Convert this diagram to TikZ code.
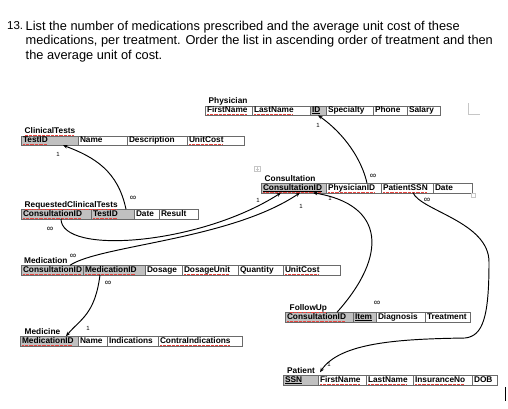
\documentclass[tikz,border=0pt]{standalone}
\usepackage{fontspec}
\setmainfont{Liberation Sans}
\usetikzlibrary{positioning,arrows.meta}
\definecolor{erGris}{HTML}{C0C0C0}
\definecolor{erBorde}{HTML}{6A6A6A}
\definecolor{erRojo}{HTML}{E8453F}
\newcommand\cellfont{\bfseries\fontsize{8.3}{9}\selectfont}
\newsavebox\erbox
% red spell-check dots under a word
\newcommand\wavy[1]{\leavevmode\sbox\erbox{#1}\rlap{\hbox to\wd\erbox{\leaders\hbox{\textcolor{erRojo}{\rule[-2.1pt]{0.6pt}{0.5pt}}\kern0.7pt}\hfill}}\usebox\erbox}
% key underline
\newcommand\keyul[1]{\leavevmode\sbox\erbox{#1}\rlap{\rule[-1.1pt]{\wd\erbox}{0.5pt}}\usebox\erbox}
\newcommand\keywavy[1]{\leavevmode\sbox\erbox{#1}\rlap{\rule[-1.1pt]{\wd\erbox}{0.5pt}}\wavy{#1}}
\begin{document}
\begin{tikzpicture}[x=1pt, y=-1pt,
      cell/.style={draw=erBorde, line width=0.5pt, outer sep=0pt, inner xsep=2pt, inner ysep=0pt,
                   minimum height=9.5pt, text height=6.2pt, text depth=1.8pt,
                   text width=#1, align=left, font=\cellfont},
      key/.style={cell=#1, fill=erGris},
      ttl/.style={inner sep=0pt, font=\cellfont, text height=6.2pt, text depth=1.8pt},
      lnk/.style={-{Stealth[length=4.5pt,width=3.6pt]}, line width=0.95pt},
      one/.style={inner sep=0pt, font=\fontsize{6}{6}\selectfont},
      many/.style={inner sep=0pt, font=\fontsize{9}{9}\selectfont},
      edmark/.style={draw=gray!45, line width=0.5pt}]
    \useasboundingbox (0,0) rectangle (508,408);
    % question
    \node[anchor=north west, inner sep=0pt, font=\fontsize{11.5}{14.5}\selectfont] (qnum) at (7,21.5) {13.};
    \node[anchor=north west, inner sep=0pt, align=left, font=\fontsize{12.8}{14.5}\selectfont] (qtext) at (25.5,21)
      {List the number of medications prescribed and the average unit cost of these\\
       medications, per treatment. Order the list in ascending order of treatment and then\\
       the average unit of cost.};
    % Physician
    \node[cell=43pt, anchor=west] (phFirst) at (205,110.5) {\wavy{FirstName}};
    \node[cell=54pt, right=0pt of phFirst] (phLast) {\wavy{LastName}};
    \node[key=12pt, right=0pt of phLast] (phID) {\keyul{ID}};
    \node[cell=43pt, right=0pt of phID] (phSpec) {Specialty};
    \node[cell=30pt, right=0pt of phSpec] (phPhone) {Phone};
    \node[cell=29pt, right=0pt of phPhone] (phSal) {Salary};
    \node[ttl, above right=0pt and 3.5pt of phFirst.north west] (phT) {Physician};
    % ClinicalTests
    \node[key=53pt, anchor=west] (ctID) at (21,140.5) {\wavy{TestID}};
    \node[cell=45pt, right=0pt of ctID] (ctName) {Name};
    \node[cell=56pt, right=0pt of ctName] (ctDesc) {Description};
    \node[cell=53pt, right=0pt of ctDesc] (ctCost) {\wavy{UnitCost}};
    \node[ttl, above right=0pt and 3.5pt of ctID.north west] (ctT) {\wavy{ClinicalTests}};
    % Consultation
    \node[key=61pt, anchor=west] (coID) at (261,188) {\keywavy{ConsultationID}};
    \node[cell=51pt, right=0pt of coID] (coPhys) {\wavy{PhysicianID}};
    \node[cell=48pt, right=0pt of coPhys] (coPat) {\wavy{PatientSSN}};
    \node[cell=35pt, right=0pt of coPat] (coDate) {Date};
    \node[ttl, above right=0pt and 3.5pt of coID.north west] (coT) {Consultation};
    % RequestedClinicalTests
    \node[key=66pt, anchor=west] (rcID) at (21,214) {\wavy{ConsultationID}};
    \node[key=39pt, right=0pt of rcID] (rTest) {\wavy{TestID}};
    \node[cell=21pt, right=0pt of rTest] (rDate) {Date};
    \node[cell=35pt, right=0pt of rDate] (rRes) {Result};
    \node[ttl, above right=0pt and 3.5pt of rcID.north west] (rcT) {\wavy{RequestedClinicalTests}};
    % Medication
    \node[key=58pt, anchor=west] (mcID) at (21,270) {\wavy{ConsultationID}};
    \node[key=58pt, right=0pt of mcID] (mcMed) {\wavy{MedicationID}};
    \node[cell=33pt, right=0pt of mcMed] (mcDose) {Dosage};
    \node[cell=52pt, right=0pt of mcDose] (mcUnit) {\wavy{DosageUnit}};
    \node[cell=41pt, right=0pt of mcUnit] (mcQty) {Quantity};
    \node[cell=53pt, right=0pt of mcQty] (mcCost) {\wavy{UnitCost}};
    \node[ttl, above right=0pt and 3pt of mcID.north west] (mcT) {Medication};
    % FollowUp
    \node[key=64pt, anchor=west] (fuID) at (285,317) {\wavy{ConsultationID}};
    \node[key=19pt, right=0pt of fuID] (fuItem) {\keyul{Item}};
    \node[cell=45pt, right=0pt of fuItem] (fuDiag) {Diagnosis};
    \node[cell=41pt, right=0pt of fuDiag] (fuTreat) {Treatment};
    \node[ttl, above right=0pt and 4.5pt of fuID.north west] (fuT) {\wavy{FollowUp}};
    % Medicine
    \node[key=54pt, anchor=west] (mdID) at (20,341) {\wavy{MedicationID}};
    \node[cell=25pt, right=0pt of mdID] (mdName) {Name};
    \node[cell=47pt, right=0pt of mdName] (mdInd) {Indications};
    \node[cell=80pt, right=0pt of mdInd] (mdContra) {\wavy{ContraIndications}};
    \node[ttl, above right=0pt and 4.5pt of mdID.north west] (mdT) {Medicine};
    % Patient
    \node[key=31pt, anchor=west] (pSSN) at (283,380) {\keyul{SSN}};
    \node[cell=44pt, right=0pt of pSSN] (pFirst) {\wavy{FirstName}};
    \node[cell=43pt, right=0pt of pFirst] (pLast) {\wavy{LastName}};
    \node[cell=55pt, right=0pt of pLast] (pIns) {\wavy{InsuranceNo}};
    \node[cell=21pt, right=0pt of pIns] (pDOB) {DOB};
    \node[ttl, above right=0pt and 4pt of pSSN.north west] (paT) {Patient};
    % links
    \draw[lnk] ([xshift=13.5pt]coPhys.north) .. controls +(-5,-23) and +(27,19) .. (phID.south);
    \draw[lnk] ([xshift=13.5pt]rTest.north) .. controls +(-8,-38) and +(32,12) .. ([xshift=13.5pt]ctID.south);
    \draw[lnk] ([xshift=5pt]rcID.south) .. controls +(0,37) and +(-81,52) .. ([xshift=-12.5pt]coID.south);
    \draw[lnk] ([xshift=18pt]mcID.north) .. controls +(30,-20) and +(-70,47) .. ([xshift=6.5pt]coID.south);
    \draw[lnk] ([xshift=18pt]fuID.north) .. controls +(51,-57) and +(72,12) .. ([xshift=19.5pt]coID.south);
    \draw[lnk] ([xshift=6pt]coPat.south) .. controls +(8,18) and +(0,-40) .. (489,262)
      .. controls +(0,55) and +(18,-2) .. (465,338)
      .. controls +(-65,1) and +(20,-30) .. ([xshift=2pt,yshift=3pt]pSSN.north east);
    \draw[lnk] ([xshift=-14pt]mcMed.south) .. controls +(-5,40) and +(14,-17) .. ([xshift=17pt]mdID.north);
    % cardinalities
    \node[one] (c1) at (318,125) {1};
    \node[many] (c2) at (373,176) {∞};
    \node[one] (c3) at (58,154) {1};
    \node[many] (c4) at (133,198) {∞};
    \node[many] (c5) at (50,229) {∞};
    \node[one] (c6) at (258,200) {1};
    \node[one] (c7) at (301,206) {1};
    \node[many] (c8) at (73,256) {∞};
    \node[one] (c9) at (330,198) {1};
    \node[many] (c10) at (377,303) {∞};
    \node[many] (c11) at (427,200) {∞};
    \node[one] (c12) at (329,364) {1};
    \node[many] (c13) at (108,283) {∞};
    \node[one] (c14) at (88,328) {1};
    % editor marks
    \draw[edmark] (254.5,166) rectangle (260,171.5);
    \draw[edmark] (255.5,168.75) -- (259,168.75) (257.25,167) -- (257.25,170.5);
    \draw[edmark] (471.5,193) rectangle (475.5,197);
    \draw[edmark] (468,103) -- (468,114) -- (480,114);
    \draw[line width=1pt] (505.5,387) -- (505.5,401);
  \end{tikzpicture}
\end{document}
